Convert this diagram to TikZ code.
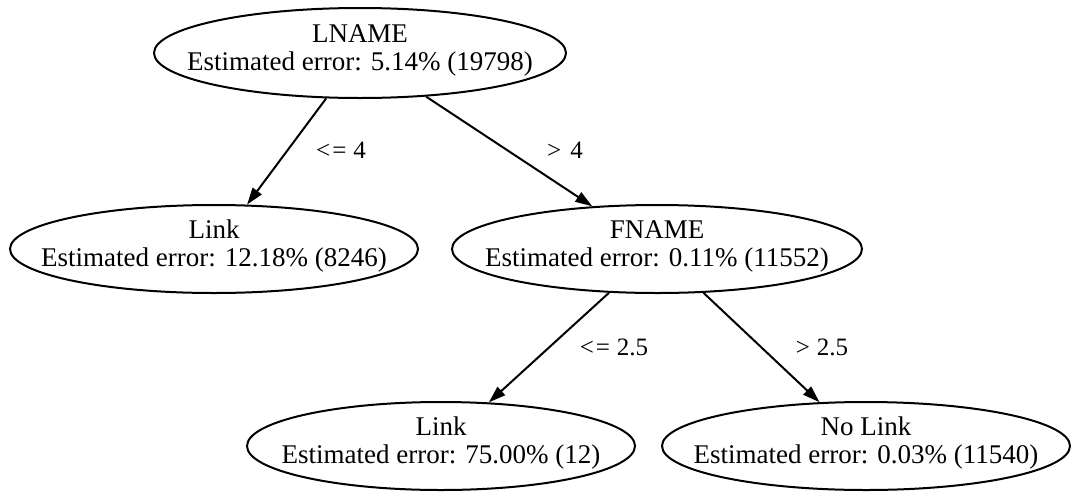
\documentclass[tikz,border=0pt]{standalone}
\usepackage{fontspec}
\setmainfont{Liberation Serif}
\usetikzlibrary{shapes.geometric,arrows.meta}
\newcommand\ntext[2]{\makebox[0pt]{\raisebox{11pt}[0pt][0pt]{\begin{tabular}[t]{@{}c@{}}#1\\#2\end{tabular}}}}
\begin{document}
\begin{tikzpicture}[x=1pt,y=-1pt,
  tnode/.style={ellipse,draw,line width=2pt,inner sep=0pt,
    font=\fontsize{27}{28}\selectfont,minimum height=88pt},
  edge/.style={line width=2pt,-{Triangle[length=17pt,width=11pt]}},
  elab/.style={font=\fontsize{25}{27}\selectfont,inner sep=0pt}]
\fill[white] (0,0) rectangle (1071,491);
\useasboundingbox (0,0) rectangle (1071,491);
\node[tnode,minimum width=412pt,minimum height=90pt] (root) at (360,53) {\ntext{LNAME}{Estimated error: 5.14\% (19798)}};
\node[tnode,minimum width=408pt] (link1) at (214,249) {\ntext{Link}{Estimated error: 12.18\% (8246)}};
\node[tnode,minimum width=410pt] (fname) at (657,249) {\ntext{FNAME}{Estimated error: 0.11\% (11552)}};
\node[tnode,minimum width=388pt] (link2) at (441,446) {\ntext{Link}{Estimated error: 75.00\% (12)}};
\node[tnode,minimum width=408pt] (nolink) at (866,446) {\ntext{No Link}{Estimated error: 0.03\% (11540)}};
\draw[edge] (root) -- (link1);
\draw[edge] (root) -- (fname);
\draw[edge] (fname) -- (link2);
\draw[edge] (fname) -- (nolink);
\node[elab] (l1) at (341,150) {<\kern2pt=\kern7pt4};
\node[elab] (l2) at (565,150) {>\kern9pt4};
\node[elab] (l3) at (614,347) {<\kern2pt=\kern7pt2.5};
\node[elab] (l4) at (822,347) {>\kern7pt2.5};
\end{tikzpicture}
\end{document}
